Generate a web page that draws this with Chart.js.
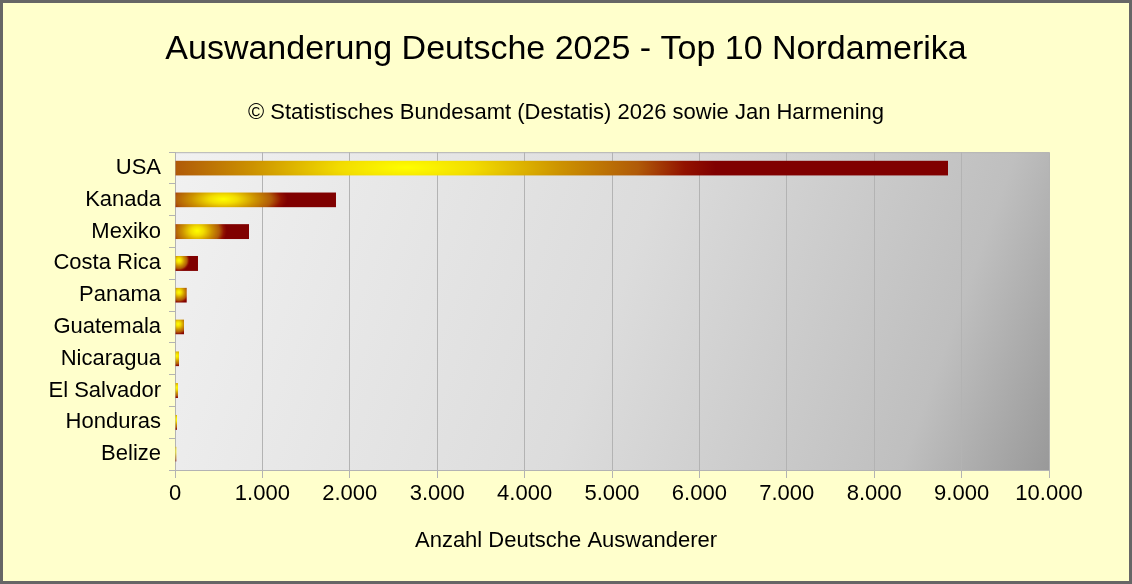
<!DOCTYPE html>
<html>
<head>
<meta charset="utf-8">
<script src="https://cdn.jsdelivr.net/npm/chart.js@4"></script>
<style>
    html, body { margin: 0; padding: 0; background: #ffffcc; }
    #wrap { width: 1132px; height: 584px; position: relative; }
</style>
</head>
<body>
<div id="wrap"><canvas id="chartNordamerika"></canvas></div>
<script>
// Daten
const laender = ["USA", "Kanada", "Mexiko", "Costa Rica", "Panama", "Guatemala", "Nicaragua", "El Salvador", "Honduras", "Belize"];
const auswanderer = [8845, 1842, 847, 263, 134, 103, 46, 34, 23, 15];
const xTicks = [0, 1000, 2000, 3000, 4000, 5000, 6000, 7000, 8000, 9000, 10000];

const titel = "Auswanderung Deutsche 2025 - Top 10 Nordamerika";
const untertitel = "© Statistisches Bundesamt (Destatis) 2026 sowie Jan Harmening";
const achsenTitel = "Anzahl Deutsche Auswanderer";

const fontFam = "'Liberation Sans', Arial, sans-serif";

// Farbverlauf gelb -> dunkelrot, als Muster pro Balken
function balkenFarbe(context) {
    const chart = context.chart;
    if (!chart.chartArea) return "#800000";
    const el = context.element;
    const x = chart.scales.x;
    const y = chart.scales.y;
    const x0 = x.getPixelForValue(0);
    const x1 = x.getPixelForValue(context.raw);
    const h = (el && el.height) ? el.height : 15;
    const yc = y.getPixelForValue(context.dataIndex);
    const L = Math.max(2, Math.round(x1 - x0));
    const H = Math.max(2, Math.round(h));

    const off = document.createElement("canvas");
    off.width = L;
    off.height = H;
    const c = off.getContext("2d");
    c.fillStyle = "#800000";
    c.fillRect(0, 0, L, H);
    let rx, ry, cx, cy;
    if (L < 40) {
        // kurze Balken: kugelartig, Glanzpunkt oben links
        rx = ry = H * 0.72;
        cx = Math.min(L * 0.35, 4);
        cy = H * 0.3;
    } else {
        rx = 0.4 * L;
        ry = Math.max(H * (L > 300 ? 4 : 1.4), 8);
        cx = L * 0.3;
        cy = H * 0.45;
    }
    c.save();
    c.translate(cx, cy);
    c.scale(rx, ry);
    const g = c.createRadialGradient(0, 0, 0, 0, 0, 1);
    g.addColorStop(0, "#ffff00");
    g.addColorStop(0.22, "#f2dc00");
    g.addColorStop(0.5, "#cc9200");
    g.addColorStop(0.75, "#b05a08");
    g.addColorStop(0.9, "#921200");
    g.addColorStop(1, "#800000");
    c.fillStyle = g;
    c.fillRect(-cx / rx, -cy / ry, L / rx, H / ry);
    c.restore();

    const pat = chart.ctx.createPattern(off, "no-repeat");
    pat.setTransform(new DOMMatrix().translate(x0, yc - H / 2));
    return pat;
}

const hintergrund = {
    id: "hintergrund",
    beforeDraw(chart) {
        const { ctx, width, height, chartArea: a } = chart;
        ctx.save();
        ctx.fillStyle = "#ffffcc";
        ctx.fillRect(0, 0, width, height);
        // Diagrammfläche mit Verlauf
        const g = ctx.createLinearGradient(a.left, a.top, a.right, a.bottom);
        g.addColorStop(0, "#f1f1f1");
        g.addColorStop(0.5, "#dcdcdc");
        g.addColorStop(0.85, "#bfbfbf");
        g.addColorStop(1, "#999999");
        ctx.fillStyle = g;
        ctx.fillRect(a.left, a.top, a.right - a.left, a.bottom - a.top);
        ctx.strokeStyle = "#b3b3b3";
        ctx.lineWidth = 1;
        ctx.beginPath();
        ctx.moveTo(a.left, a.top + 0.5);
        ctx.lineTo(a.right, a.top + 0.5);
        ctx.stroke();
        ctx.restore();
    },
    afterDraw(chart) {
        const { ctx, width, height } = chart;
        ctx.save();
        // Achsentitel mittig über die ganze Breite
        ctx.fillStyle = "#000000";
        ctx.font = "22px " + fontFam;
        ctx.textAlign = "center";
        ctx.textBaseline = "middle";
        ctx.fillText(achsenTitel, width / 2, 541);
        // Rahmen
        ctx.strokeStyle = "#666666";
        ctx.lineWidth = 3;
        ctx.strokeRect(1.5, 1.5, width - 3, height - 3);
        ctx.restore();
    }
};

document.addEventListener("DOMContentLoaded", () => {
    const el = document.getElementById("chartNordamerika");

    new Chart(el, {
        type: "bar",
        data: {
            labels: laender,
            datasets: [{
                label: "Auswanderer",
                data: auswanderer,
                backgroundColor: balkenFarbe,
                borderWidth: 0,
                barPercentage: 0.48,
                categoryPercentage: 1.0
            }]
        },
        options: {
            indexAxis: "y",
            responsive: true,
            maintainAspectRatio: false,
            animation: false,
            layout: {
                padding: { left: 0, right: 0, top: 0, bottom: 29 }
            },
            plugins: {
                legend: { display: false },
                tooltip: { enabled: false },
                title: {
                    display: true,
                    text: titel,
                    color: "#000000",
                    font: { family: fontFam, size: 34, weight: "normal" },
                    padding: { top: 29, bottom: 30 }
                },
                subtitle: {
                    display: true,
                    text: untertitel,
                    color: "#000000",
                    font: { family: fontFam, size: 22, weight: "normal" },
                    padding: { top: 0, bottom: 26 }
                }
            },
            scales: {
                x: {
                    type: "linear",
                    min: 0,
                    max: 10000,
                    afterBuildTicks(scale) {
                        scale.ticks = xTicks.map(v => ({ value: v }));
                    },
                    afterFit(scale) { scale.height = 85; },
                    grid: {
                        color: "#b3b3b3",
                        lineWidth: 1,
                        tickLength: 8,
                        drawOnChartArea: true
                    },
                    border: { display: true, color: "#b3b3b3" },
                    ticks: {
                        color: "#000000",
                        padding: 3,
                        font: { family: fontFam, size: 22 },
                        maxRotation: 0,
                        callback: v => v.toLocaleString("de-DE")
                    },
                    title: { display: false }
                },
                y: {
                    afterFit(scale) { scale.width = 175; },
                    grid: {
                        display: true,
                        drawOnChartArea: false,
                        color: "#b3b3b3",
                        tickLength: 6,
                        offset: true
                    },
                    border: { display: true, color: "#b3b3b3" },
                    ticks: {
                        color: "#000000",
                        padding: 8,
                        font: { family: fontFam, size: 22 }
                    }
                },
                // leere Achse rechts als Abstand, damit der Titel mittig über dem ganzen Bild bleibt
                rechts: {
                    type: "linear",
                    position: "right",
                    display: true,
                    afterFit(scale) { scale.width = 83; },
                    grid: { display: false },
                    border: { display: false },
                    ticks: { display: false }
                }
            }
        },
        plugins: [hintergrund]
    });
});
</script>
</body>
</html>
